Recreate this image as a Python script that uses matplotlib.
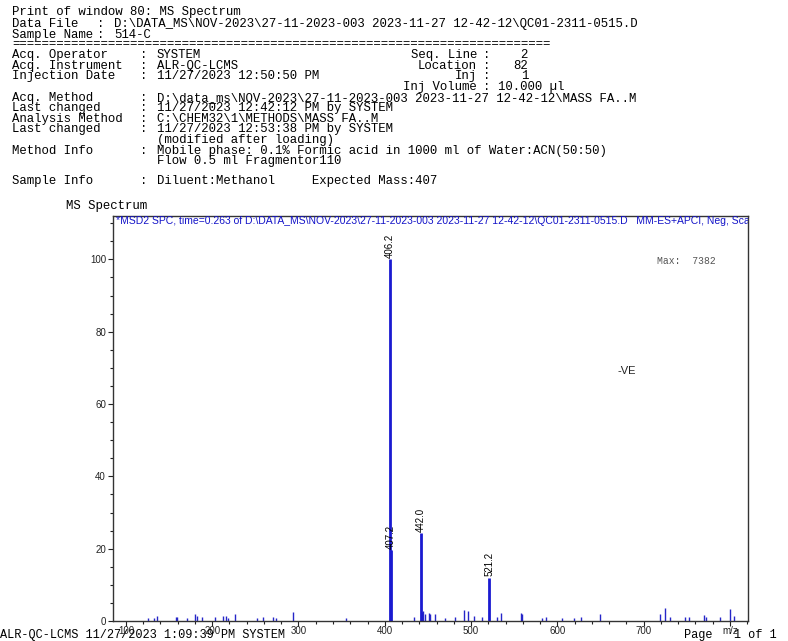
import matplotlib
matplotlib.use('Agg')
import matplotlib.pyplot as plt
from matplotlib.ticker import MultipleLocator

W, H = 788, 641

# labelled peaks (m/z, relative abundance %)
main_mz = [406.2, 407.2, 442.0, 521.2]
main_int = [100.0, 19.5, 24.2, 12.0]
main_labels = ['406.2', '407.2', '442.0', '521.2']

# small unlabelled peaks
minor_mz = [125.9, 132.9, 135.6, 158.0, 159.5, 170.4, 180.0, 182.7, 187.8,
            203.2, 212.9, 215.6, 218.7, 226.5, 251.6, 259.3, 270.9, 274.0,
            294.1, 355.0, 433.5, 443.0, 444.5, 446.5, 450.7, 452.7, 458.5,
            469.3, 481.7, 492.3, 496.5, 502.9, 512.6, 529.5, 534.7, 558.0,
            559.0, 582.2, 587.2, 605.4, 618.9, 627.4, 649.0, 718.6, 724.5,
            730.3, 748.5, 752.3, 770.5, 772.5, 789.0, 800.7, 805.3]
minor_int = [0.8, 0.9, 1.4, 1.0, 1.0, 0.7, 2.0, 1.4, 1.0,
             1.0, 1.4, 1.3, 0.8, 1.8, 0.7, 1.2, 1.2, 0.8,
             2.5, 0.9, 1.0, 2.6, 2.9, 2.0, 2.1, 2.0, 1.8,
             0.9, 1.2, 3.0, 2.9, 1.5, 1.1, 1.0, 2.2, 2.2,
             1.8, 0.8, 1.2, 0.8, 0.9, 1.2, 1.8, 1.8, 3.7,
             1.0, 1.0, 1.2, 1.6, 1.0, 1.2, 3.2, 1.3]

x_ticks = [100, 200, 300, 400, 500, 600, 700, 800]
x_tick_labels = ['100', '200', '300', '400', '500', '600', '700', 'm/z']
y_ticks = [0, 20, 40, 60, 80, 100]

header_left = [
    (24, 'Data File', 'D:\\DATA_MS\\NOV-2023\\27-11-2023-003 2023-11-27 12-42-12\\QC01-2311-0515.D', 97, 114),
    (35, 'Sample Name', '514-C', 97, 114),
    (55, 'Acq. Operator', 'SYSTEM', 140, 157),
    (66, 'Acq. Instrument', 'ALR-QC-LCMS', 140, 157),
    (76, 'Injection Date', '11/27/2023 12:50:50 PM', 140, 157),
    (98, 'Acq. Method', 'D:\\data_ms\\NOV-2023\\27-11-2023-003 2023-11-27 12-42-12\\MASS FA..M', 140, 157),
    (108, 'Last changed', '11/27/2023 12:42:12 PM by SYSTEM', 140, 157),
    (119, 'Analysis Method', 'C:\\CHEM32\\1\\METHODS\\MASS FA..M', 140, 157),
    (129, 'Last changed', '11/27/2023 12:53:38 PM by SYSTEM', 140, 157),
    (151, 'Method Info', 'Mobile phase: 0.1% Formic acid in 1000 ml of Water:ACN(50:50)', 140, 157),
    (181, 'Sample Info', 'Diluent:Methanol     Expected Mass:407', 140, 157),
]
header_extra = [
    (140, '(modified after loading)'),
    (161, 'Flow 0.5 ml Fragmentor110'),
]
header_right = [
    (55, 'Seq. Line', '2'),
    (66, 'Location', '82'),
    (76, 'Inj', '1'),
    (87, 'Inj Volume', '10.000 µl'),
]

mono = 'Liberation Mono'
fs = 8.9


def fx(px):
    return px / W


def fy(py):
    return 1 - py / H


fig = plt.figure(figsize=(W / 100, H / 100), dpi=100)

fig.text(fx(12), fy(12), 'Print of window 80: MS Spectrum', family=mono, size=fs, va='center')
fig.text(fx(12), fy(44), '=' * 73, family=mono, size=fs, va='center')
for y, lab, val, cx, vx in header_left:
    fig.text(fx(12), fy(y), lab, family=mono, size=fs, va='center')
    fig.text(fx(cx), fy(y), ':', family=mono, size=fs, va='center')
    fig.text(fx(vx), fy(y), val, family=mono, size=fs, va='center')
for y, txt in header_extra:
    fig.text(fx(157), fy(y), txt, family=mono, size=fs, va='center')
for y, lab, val in header_right:
    fig.text(fx(477), fy(y), lab, family=mono, size=fs, va='center', ha='right')
    fig.text(fx(483), fy(y), ':', family=mono, size=fs, va='center')
    if lab == 'Inj Volume':
        fig.text(fx(498), fy(y), val, family=mono, size=fs, va='center')
    else:
        fig.text(fx(528), fy(y), val, family=mono, size=fs, va='center', ha='right')

fig.text(fx(66), fy(206), 'MS Spectrum', family=mono, size=fs, va='center')
fig.text(fx(0), fy(641), 'ALR-QC-LCMS 11/27/2023 1:09:39 PM SYSTEM', family=mono, size=8.6, va='bottom')
fig.text(fx(684), fy(641), 'Page   1 of 1', family=mono, size=8.6, va='bottom')

ax = fig.add_axes([fx(113), 1 - 621 / H, (748 - 113) / W, (621 - 216) / H])
ax.vlines(minor_mz, 0, minor_int, color='#2626c8', linewidth=1.0)
ax.vlines(main_mz, 0, main_int, color='#1a1ad0', linewidth=2.0)
for mz, v, lab in zip(main_mz, main_int, main_labels):
    ax.text(mz, v + 0.4, lab, rotation=90, ha='center', va='bottom',
            fontsize=7, family='Liberation Sans', color='black')

ax.set_xlim(85, 821)
ax.set_ylim(0, 112)
ax.set_xticks(x_ticks)
ax.set_xticklabels(x_tick_labels)
ax.set_yticks(y_ticks)
ax.xaxis.set_minor_locator(MultipleLocator(20))
ax.yaxis.set_minor_locator(MultipleLocator(5))
ax.tick_params(which='both', direction='out', labelsize=7, colors='#222222', pad=1.5)
ax.tick_params(axis='x', pad=0.3)
ax.tick_params(which='major', length=3.5, width=0.8)
ax.tick_params(which='minor', length=2, width=0.8)
for lab in ax.get_xticklabels() + ax.get_yticklabels():
    lab.set_family('Liberation Sans')
for s in ax.spines.values():
    s.set_linewidth(1.0)
    s.set_color('#333333')

ax.text(0.004, 0.999, '*MSD2 SPC, time=0.263 of D:\\DATA_MS\\NOV-2023\\27-11-2023-003 2023-11-27 12-42-12\\QC01-2311-0515.D'
        '   MM-ES+APCI, Neg, Scan, Frag: 110',
        transform=ax.transAxes, ha='left', va='top', fontsize=7.5, color='#1414c8',
        family='Liberation Sans', clip_on=True)
ax.text(0.857, 0.888, 'Max:  7382', transform=ax.transAxes, fontsize=7,
        family=mono, color='#555555', va='center')
ax.text(0.795, 0.618, '-VE', transform=ax.transAxes, fontsize=8,
        family='Liberation Sans', color='#222222', va='center')

fig.savefig('out.png', dpi=100)
